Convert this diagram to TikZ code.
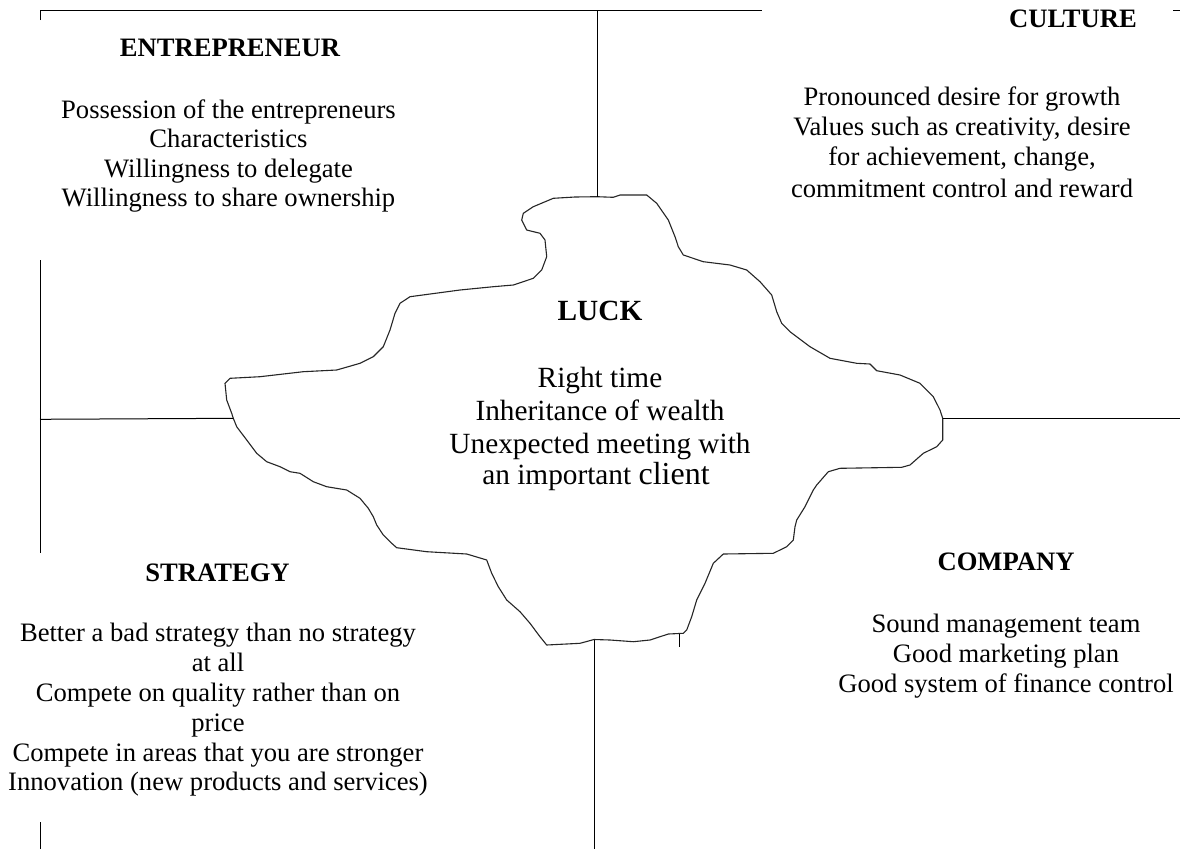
\documentclass[tikz,border=0pt]{standalone}
\usepackage{fontspec}
\setmainfont{Liberation Serif}
\newcommand{\bodyf}{\fontsize{26.6}{30}\selectfont}
\newcommand{\luckf}{\fontsize{29.3}{33}\selectfont}
\begin{document}
\begin{tikzpicture}[x=1pt,y=-1pt,
  body/.style={anchor=base,inner sep=0pt,font=\bodyf},
  head/.style={anchor=base,inner sep=0pt,font=\bodyf\bfseries},
  lbody/.style={anchor=base,inner sep=0pt,font=\luckf},
  lhead/.style={anchor=base,inner sep=0pt,font=\luckf\bfseries},
  frame/.style={draw=black,line width=1pt},
  blob/.style={draw=black!85,line width=1.1pt,line join=round}]
\useasboundingbox (0,0) rectangle (1180,849);
\fill[white] (0,0) rectangle (1180,849);

% frame coordinates
\coordinate (tl) at (40,10);
\coordinate (tlt) at (40,20);
\coordinate (tend) at (762,10);
\coordinate (ttop) at (597,10);
\coordinate (l1a) at (40,260);
\coordinate (l1b) at (40,553);
\coordinate (l2a) at (40,822);
\coordinate (l2b) at (40,849);
\coordinate (lh) at (40,419.3);
\coordinate (rh) at (1180,418.3);
\coordinate (bend) at (594,849);
\coordinate (tra) at (1173,10);
\coordinate (trb) at (1180,10);
\coordinate (bta) at (679.3,634);
\coordinate (btb) at (679.3,647.3);

% blob anchor coordinates
\coordinate (bT) at (597,196.7);
\coordinate (bL) at (233.3,418.3);
\coordinate (bR) at (942.7,418.3);
\coordinate (bB) at (594,639.5);

% blob
\draw[blob] (553.3,198.3) -- (575,197) -- (bT) -- (613.3,197.3) -- (620,195)
 -- (646.7,195) -- (656.7,203.3) -- (668.3,220) -- (675,236.7) -- (678.3,246.7)
 -- (683.3,255) -- (703.3,261.7) -- (730,265) -- (746.7,270) -- (760,281.7)
 -- (771.7,295) -- (776.7,311.7) -- (781.7,323.3) -- (790,331.7) -- (810,346.7)
 -- (830,358.3) -- (856.7,363.3) -- (870,364) -- (876.7,370.7) -- (900,375)
 -- (920,383.3) -- (933.3,396.7) -- (940,410) -- (bR) -- (942.7,440)
 -- (936.7,446.7) -- (923.3,453.3) -- (910,465) -- (901.7,467.3) -- (840,468.3)
 -- (828.3,471.7) -- (816.7,485) -- (813.3,490) -- (805,506.7) -- (796.7,520)
 -- (795,526.7) -- (793.3,540) -- (786.7,546.7) -- (773.3,553.3) -- (723.3,554)
 -- (713.3,563.3) -- (705,583.3) -- (696.7,600) -- (691.7,616.7) -- (686.7,630)
 -- (683.3,633.3) -- (668.3,634) -- (650,640) -- (633.3,641.7) -- (610,640)
 -- (bB) -- (580,643.3) -- (546.7,645) -- (540,636.7) -- (530,623.3)
 -- (520,611.7) -- (506.7,600) -- (498.3,586.7) -- (491.7,573.3) -- (486.7,560)
 -- (466.7,554) -- (426.7,551.7) -- (396.7,547.7) -- (391.7,543.3) -- (383.3,535)
 -- (376.7,525) -- (373.3,516.7) -- (368.3,508.3) -- (360,498.3) -- (346.7,490)
 -- (326.7,486.7) -- (313.3,481.7) -- (300,473.3) -- (290,471.7) -- (280,466.7)
 -- (266.7,461.7) -- (256.7,453.3) -- (246.7,440) -- (236.7,426.7) -- (bL)
 -- (231.7,413.3) -- (226.7,400) -- (225,383.3) -- (230,378.3) -- (260,376.7)
 -- (303.3,371.7) -- (336.7,370) -- (360,363.3) -- (373.3,356.7) -- (383.3,346.7)
 -- (390,330) -- (395,313.3) -- (400,303.3) -- (410,296.7) -- (460,290)
 -- (493.3,286.7) -- (513.3,285) -- (533.3,278.3) -- (541.7,270) -- (546.7,256.7)
 -- (545,240) -- (540,233.3) -- (526.7,230) -- (521.7,220) -- (523.3,213.3)
 -- (533.3,206.7) -- cycle;

% frame lines
\draw[frame] (tlt) -- (tl) -- (tend);
\draw[frame] (ttop) -- (bT);
\draw[frame] (l1a) -- (l1b);
\draw[frame] (l2a) -- (l2b);
\draw[frame] (lh) -- (bL);
\draw[frame] (bR) -- (rh);
\draw[frame] (bB) -- (bend);
\draw[frame] (bta) -- (btb);
\draw[frame] (tra) -- (trb);

% ENTREPRENEUR
\node[head] (entT) at (230,56.7) {ENTREPRENEUR};
\node[body] (ent1) at (228.5,118) {Possession of the entrepreneurs};
\node[body] (ent2) at (228.5,147.5) {Characteristics};
\node[body] (ent3) at (228.5,177) {Willingness to delegate};
\node[body] (ent4) at (228.5,206) {Willingness to share ownership};

% CULTURE
\node[head] (culT) at (1073,27) {CULTURE};
\node[body] (cul1) at (962,105) {Pronounced desire for growth};
\node[body] (cul2) at (962,135) {Values such as creativity, desire};
\node[body] (cul3) at (962,165) {for achievement, change,};
\node[body] (cul4) at (962,197) {commitment control and reward};

% LUCK
\node[lhead] (lucT) at (600,320) {LUCK};
\node[lbody] (luc1) at (600,387) {Right time};
\node[lbody] (luc2) at (600,420) {Inheritance of wealth};
\node[lbody] (luc3) at (600,453) {Unexpected meeting with};
\node[lbody] (luc4) at (596,484) {an important {\fontsize{32}{33}\selectfont client}};

% STRATEGY
\node[head] (strT) at (217.5,581.7) {STRATEGY};
\node[body] (str1) at (218,641.7) {Better a bad strategy than no strategy};
\node[body] (str2) at (218,671.7) {at all};
\node[body] (str3) at (218,701.7) {Compete on quality rather than on};
\node[body] (str4) at (218,731.7) {price};
\node[body] (str5) at (218,761.7) {Compete in areas that you are stronger};
\node[body] (str6) at (218,790) {Innovation (new products and services)};

% COMPANY
\node[head] (comT) at (1006,570) {COMPANY};
\node[body] (com1) at (1006,632) {Sound management team};
\node[body] (com2) at (1006,662) {Good marketing plan};
\node[body] (com3) at (1006,692) {Good system of finance control};
\end{tikzpicture}
\end{document}
